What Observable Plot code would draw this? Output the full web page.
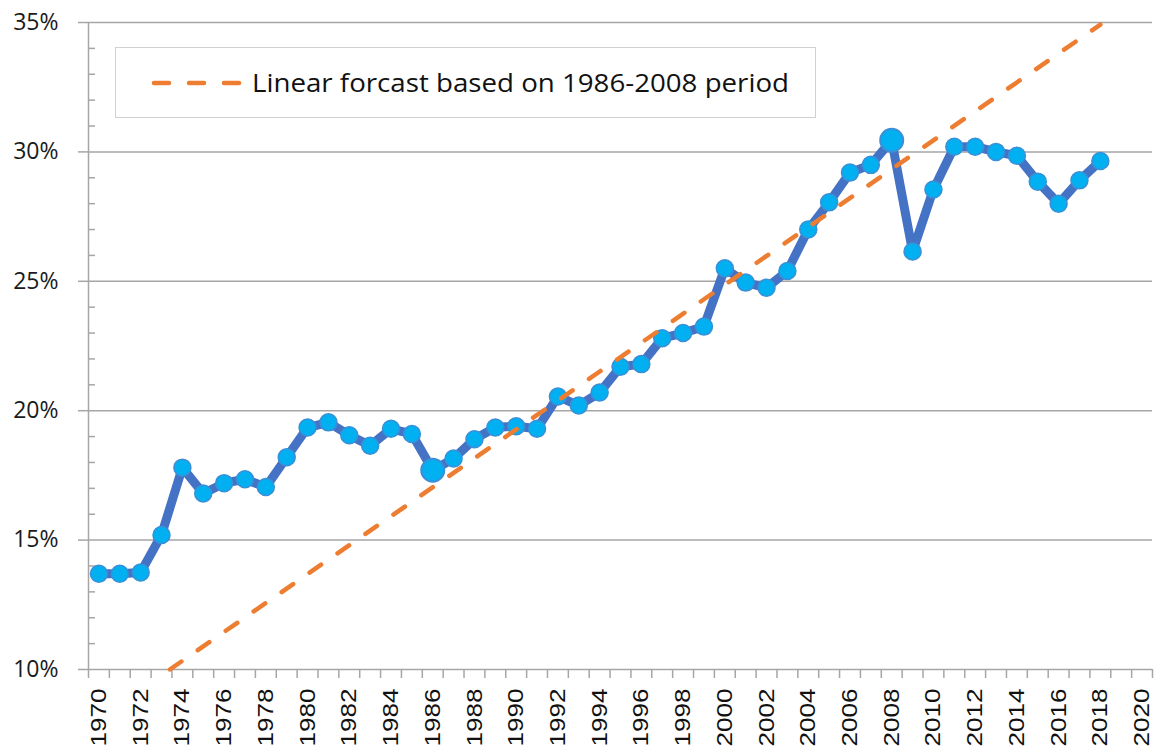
<!DOCTYPE html>
<html>
<head>
<meta charset="utf-8">
<script src="https://cdn.jsdelivr.net/npm/d3@7"></script>
<script src="https://cdn.jsdelivr.net/npm/@observablehq/plot@0.6"></script>
<style>
  html, body { margin: 0; padding: 0; background: #fff; }
  #wrap { position: relative; width: 1156px; height: 751px; overflow: hidden; }
  #legend { position: absolute; left: 0; top: 0; pointer-events: none; }
</style>
</head>
<body>
<div id="wrap"></div>
<script>
// ---- data ----
const years = d3.range(1970, 2019);
const values = [
  13.7, 13.7, 13.75, 15.2, 17.8, 16.8, 17.2, 17.35, 17.05, 18.2,
  19.35, 19.55, 19.05, 18.65, 19.3, 19.1, 17.7, 18.15, 18.9, 19.35,
  19.4, 19.3, 20.55, 20.2, 20.7, 21.7, 21.8, 22.8, 23.0, 23.25,
  25.5, 24.95, 24.75, 25.4, 27.0, 28.05, 29.2, 29.5, 30.45, 26.15,
  28.55, 30.2, 30.2, 30.0, 29.85, 28.85, 28.0, 28.9, 29.65
];
const highlightYears = [1986, 2008];
const forecastYears = [1973.4, 2018];
const forecastValues = [10, 34.92];
const yTicks = [10, 15, 20, 25, 30, 35];
const yGrid = [15, 20, 25, 30, 35];
const yMinor = d3.range(10, 36, 1);
const xLabelYears = d3.range(1970, 2021, 2);
const xTickBounds = d3.range(1969.5, 2021, 1);
const legendLabel = "Linear forcast based on 1986-2008 period";

const series = years.map((y, i) => ({year: y, value: values[i]}));
const forecast = forecastYears.map((y, i) => ({year: y, value: forecastValues[i]}));
const highlighted = series.filter(d => highlightYears.includes(d.year));
const regular = series.filter(d => !highlightYears.includes(d.year));

const gray = "#a6a6a6";
const blue = "#4472C4";
const cyan = "#00B0F0";
const orange = "#ED7D31";

const chart = Plot.plot({
  width: 1156,
  height: 751,
  marginLeft: 88,
  marginRight: 4,
  marginTop: 22,
  marginBottom: 82,
  style: {background: "#fff", overflow: "visible"},
  x: {domain: [1969.5, 2020.5]},
  y: {domain: [10, 35]},
  marks: [
    Plot.ruleY(yGrid, {stroke: gray, strokeWidth: 1.5}),
    Plot.ruleY([10], {stroke: gray, strokeWidth: 1.5}),
    Plot.ruleX([1969.5], {stroke: gray, strokeWidth: 1.5}),
    // y axis major ticks + labels
    Plot.axisY({ticks: yTicks, tickSize: 10, tickPadding: 20, tickFormat: d => d + "%",
      stroke: gray, strokeWidth: 1.5, fontSize: 23, fontFamily: "'Open Sans', sans-serif",
      fill: "#1a1a1a", label: null}),
    // y axis minor ticks (inside)
    Plot.axisY({ticks: yMinor.filter(d => d % 5 !== 0), tickSize: -7, text: null,
      stroke: gray, strokeWidth: 1.5, label: null}),
    // x tick marks at category boundaries
    Plot.axisX({ticks: xTickBounds, tickSize: 9, text: null, stroke: gray, strokeWidth: 1.5, label: null}),
    // x labels
    Plot.axisX({ticks: xLabelYears, tickSize: 0, tickPadding: 19, tickRotate: -90,
      tickFormat: d => String(d), fontSize: 22, fontFamily: "'Liberation Sans', Arial, sans-serif",
      fill: "#111", label: null}),
    Plot.line(series, {x: "year", y: "value", stroke: blue, strokeWidth: 9, strokeLinejoin: "round", strokeLinecap: "round"}),
    Plot.dot(regular, {x: "year", y: "value", r: 8.5, fill: cyan, stroke: "#3b8fd6", strokeWidth: 1.5}),
    Plot.dot(highlighted, {x: "year", y: "value", r: 11.5, fill: cyan, stroke: "#3b8fd6", strokeWidth: 2}),
    Plot.line(forecast, {x: "year", y: "value", stroke: orange, strokeWidth: 4.5,
      strokeDasharray: "14,20", strokeLinecap: "round"})
  ]
});

// stretch x labels along their direction, as in the reference (kept inside the picture)
d3.select(chart).selectAll("text")
  .filter(function () { return /^\d{4}$/.test(this.textContent); })
  .attr("textLength", 58).attr("lengthAdjust", "spacingAndGlyphs");

const wrap = document.getElementById("wrap");
wrap.appendChild(chart);

// legend overlay
const ns = "http://www.w3.org/2000/svg";
const lg = d3.create("svg").attr("id", "legend").attr("width", 1156).attr("height", 751)
  .attr("xmlns", ns);
lg.append("rect").attr("x", 115.5).attr("y", 47.5).attr("width", 700).attr("height", 70)
  .attr("fill", "#fff").attr("stroke", "#d0d0d0").attr("stroke-width", 1);
lg.append("line").attr("x1", 154).attr("x2", 240).attr("y1", 83).attr("y2", 83)
  .attr("stroke", orange).attr("stroke-width", 4.5).attr("stroke-dasharray", "15,20")
  .attr("stroke-linecap", "round");
lg.append("text").attr("x", 252).attr("y", 92).attr("font-size", 26)
  .attr("font-family", "'Open Sans', sans-serif").attr("fill", "#111")
  .attr("textLength", 537).attr("lengthAdjust", "spacingAndGlyphs")
  .text(legendLabel);
wrap.appendChild(lg.node());
</script>
</body>
</html>
